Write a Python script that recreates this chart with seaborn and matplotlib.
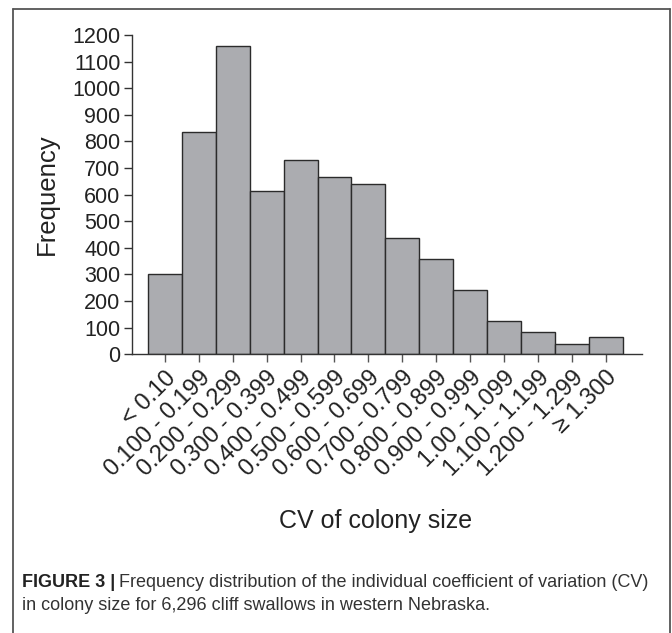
import matplotlib
matplotlib.use("Agg")
import matplotlib.pyplot as plt
from matplotlib.lines import Line2D
import seaborn as sns
import pandas as pd

# CV bins and the number of birds falling in each
cv_bins = ["< 0.10", "0.100 - 0.199", "0.200 - 0.299", "0.300 - 0.399",
           "0.400 - 0.499", "0.500 - 0.599", "0.600 - 0.699", "0.700 - 0.799",
           "0.800 - 0.899", "0.900 - 0.999", "1.00 - 1.099", "1.100 - 1.199",
           "1.200 - 1.299", "\u2265 1.300"]
frequency = [303, 835, 1158, 613, 729, 668, 641, 436, 357, 243, 124, 85, 39, 65]
y_ticks = list(range(0, 1201, 100))

df = pd.DataFrame({"cv": cv_bins, "n": frequency})

sns.set_theme(style="white")
plt.rcParams["font.family"] = ["Liberation Sans", "DejaVu Sans"]
plt.rcParams["text.color"] = "#222222"

W, H = 672, 633
DPI = 100
fig = plt.figure(figsize=(W / DPI, H / DPI), dpi=DPI)
fig.patch.set_facecolor("white")

def fx(px):
    return px / W

def fy(py):
    return 1 - py / H

AX_L, AX_R = 131.7, 642
ax = fig.add_axes([fx(AX_L), fy(354.3), fx(AX_R) - fx(AX_L), fy(35) - fy(354.3)])

sns.barplot(data=df, x="cv", y="n", ax=ax, color="#abacb0", saturation=1,
            width=1.0, edgecolor="#2b2b2b", linewidth=1.0)

ax.set_xlim(-0.98, len(cv_bins) - 1 + 1.07)
ax.set_ylim(0, 1200)
ax.set_yticks(y_ticks)
ax.set_yticklabels([str(v) for v in y_ticks])

for side in ("top", "right"):
    ax.spines[side].set_visible(False)
for side in ("left", "bottom"):
    ax.spines[side].set_color("#333333")
    ax.spines[side].set_linewidth(1.0)

ax.tick_params(axis="y", left=True, direction="out", length=6, width=1.0,
               color="#333333", pad=2, labelsize=15.5, labelcolor="#222222")
ax.tick_params(axis="x", bottom=True, direction="out", length=6, width=1.0,
               color="#555555", pad=3, labelsize=17, labelcolor="#222222")
for lbl in ax.get_xticklabels():
    lbl.set_rotation(45)
    lbl.set_ha("right")
    lbl.set_va("top")
    lbl.set_rotation_mode("anchor")

ax.set_xlabel("")
ax.set_ylabel("Frequency", fontsize=18.5, color="#222222", va="center")
ax.yaxis.set_label_coords((47 - AX_L) / (AX_R - AX_L), 0.5)

fig.text(fx(376), fy(521), "CV of colony size", fontsize=18, ha="center",
         va="center", color="#222222")

# Caption under the chart
cap_size = 13.0
bold = fig.text(fx(22), fy(587), "FIGURE 3 |", fontsize=cap_size,
                fontweight="bold", ha="left", va="baseline", color="#222222")
fig.canvas.draw()
bb = bold.get_window_extent(renderer=fig.canvas.get_renderer())
fig.text(fx(bb.x1 + 4), fy(587),
         "Frequency distribution of the individual coefficient of variation (CV)",
         fontsize=cap_size, ha="left", va="baseline", color="#333333")
fig.text(fx(22), fy(610.5),
         "in colony size for 6,296 cliff swallows in western Nebraska.",
         fontsize=cap_size, ha="left", va="baseline", color="#333333")

# Frame around figure panel
frame_kw = dict(transform=fig.transFigure, color="#555555", linewidth=1.3)
fig.add_artist(Line2D([fx(13), fx(13)], [fy(8.5), 0], **frame_kw))
fig.add_artist(Line2D([fx(13), fx(670)], [fy(8.5), fy(8.5)], **frame_kw))
fig.add_artist(Line2D([fx(670), fx(670)], [fy(8.5), 0], **frame_kw))

fig.savefig("out.png", dpi=DPI, facecolor="white")
